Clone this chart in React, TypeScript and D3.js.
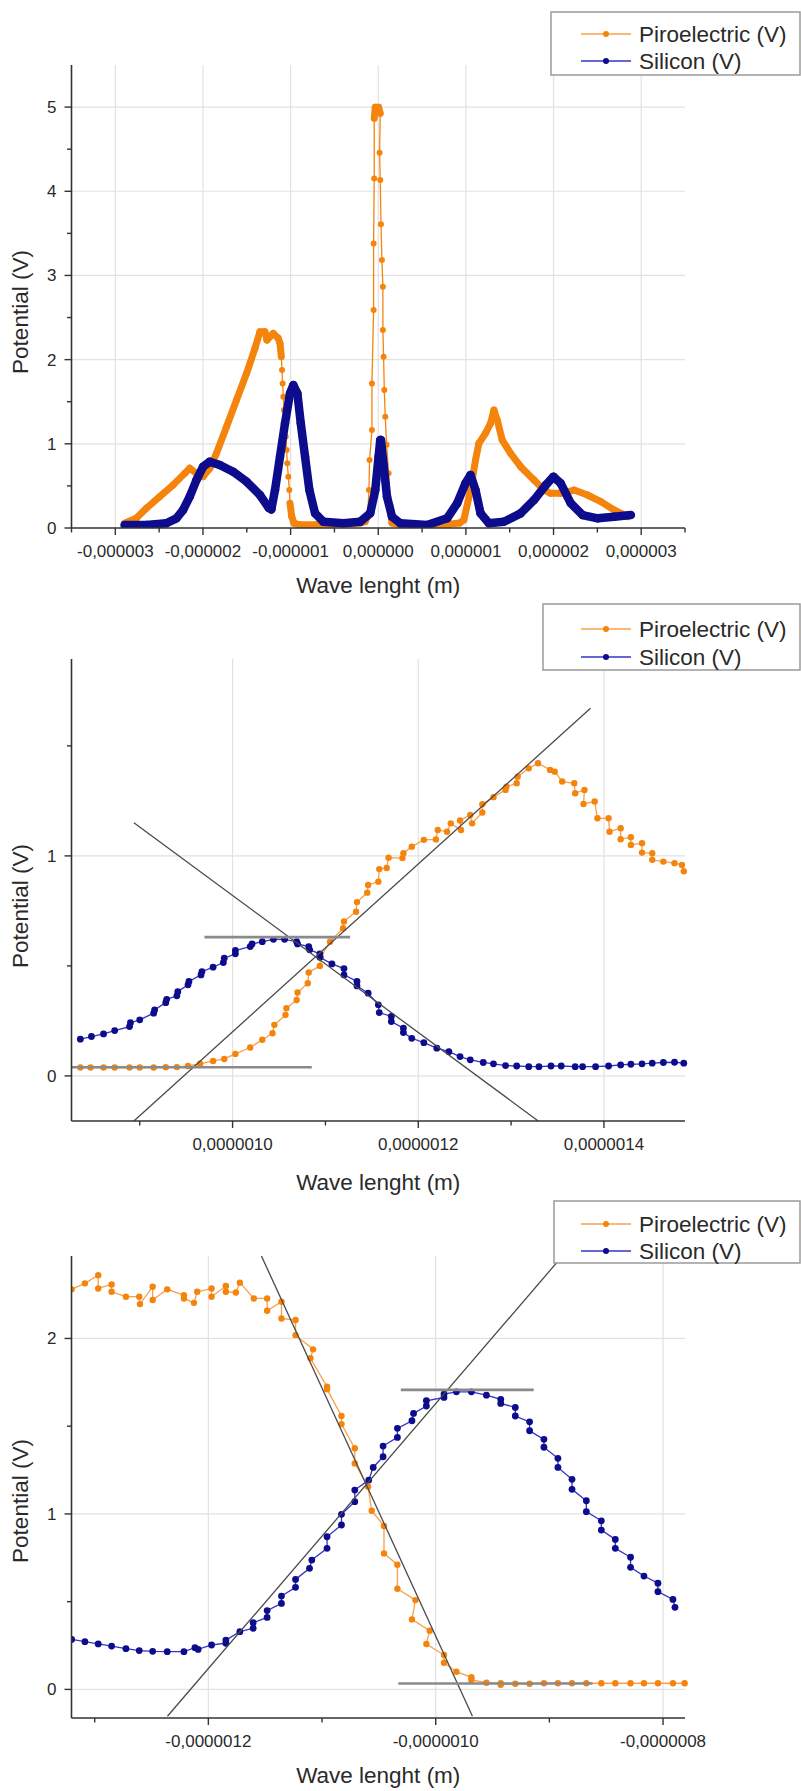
import React from 'react';
import * as d3 from 'd3';

// ---------- DATA (x in micrometres = ×1e-6 m, y in volts) ----------
// Panel 1: overview
const overviewPiroX = [-2.895,-2.761,-2.646,-2.494,-2.342,-2.208,-2.151,-2.074,-1.998,-1.922,-1.846,-1.731,-1.617,-1.502,-1.407,-1.35,-1.293,-1.27,-1.198,-1.141,-1.121,-1.106,-1.098,-1.091,-1.083,-1.076,-1.064,-1.056,-1.045,-1.038,-1.026,-1.015,-1.007,-0.987,-0.961,-0.9,-0.7,-0.5,-0.3,-0.2,-0.15,-0.122,-0.106,-0.099,-0.072,-0.072,-0.053,-0.053,-0.046,-0.046,-0.034,0.004,0.023,0.015,0.023,0.031,0.042,0.053,0.053,0.061,0.069,0.08,0.095,0.118,0.137,0.157,0.25,0.5,0.8,0.93,0.976,1.053,1.11,1.148,1.224,1.281,1.32,1.358,1.415,1.51,1.625,1.777,1.891,1.968,2.082,2.235,2.387,2.54,2.692,2.845];
const overviewPiroY = [0.056,0.115,0.234,0.372,0.51,0.649,0.709,0.649,0.61,0.709,0.887,1.203,1.52,1.837,2.134,2.331,2.331,2.233,2.312,2.253,2.193,2.035,1.876,1.718,1.56,1.401,1.243,1.085,0.926,0.768,0.61,0.451,0.293,0.134,0.056,0.04,0.04,0.045,0.05,0.06,0.075,0.134,0.451,0.808,1.164,1.718,2.589,3.381,4.153,4.866,4.997,4.997,4.925,4.457,4.133,3.607,3.183,2.866,2.352,2.035,1.639,1.322,0.99,0.649,0.253,0.06,0.04,0.04,0.045,0.06,0.095,0.451,0.808,1.006,1.125,1.243,1.401,1.283,1.045,0.887,0.728,0.57,0.451,0.412,0.412,0.451,0.392,0.313,0.214,0.134];
const overviewSiX = [-2.895,-2.646,-2.418,-2.303,-2.227,-2.151,-2.074,-1.998,-1.922,-1.808,-1.656,-1.502,-1.35,-1.25,-1.22,-1.178,-1.121,-1.064,-1.007,-0.969,-0.923,-0.884,-0.835,-0.786,-0.721,-0.626,-0.397,-0.206,-0.092,-0.034,0.004,0.023,0.031,0.061,0.1,0.157,0.252,0.557,0.786,0.9,0.995,1.053,1.11,1.167,1.262,1.434,1.625,1.777,1.911,1.999,2.082,2.197,2.331,2.503,2.692,2.883];
const overviewSiY = [0.036,0.036,0.056,0.115,0.214,0.372,0.57,0.728,0.788,0.748,0.669,0.55,0.392,0.24,0.22,0.451,0.847,1.243,1.6,1.698,1.6,1.243,0.847,0.451,0.174,0.075,0.056,0.075,0.174,0.451,0.847,1.045,1.045,0.752,0.372,0.134,0.056,0.036,0.115,0.293,0.531,0.63,0.451,0.174,0.056,0.075,0.174,0.332,0.51,0.61,0.531,0.293,0.154,0.115,0.134,0.154];

// Panel 2: zoom around +1 µm
const zoomAPiroX = [0.836,0.847,0.861,0.873,0.889,0.9,0.915,0.928,0.94,0.952,0.965,0.979,0.991,1.003,1.019,1.032,1.043,1.045,1.057,1.058,1.069,1.07,1.081,1.082,1.094,1.095,1.105,1.119,1.12,1.133,1.134,1.145,1.146,1.157,1.158,1.166,1.168,1.183,1.184,1.193,1.206,1.219,1.221,1.231,1.235,1.246,1.245,1.256,1.258,1.269,1.269,1.281,1.294,1.295,1.306,1.307,1.319,1.329,1.342,1.347,1.355,1.368,1.369,1.379,1.378,1.39,1.393,1.405,1.406,1.418,1.418,1.429,1.429,1.441,1.441,1.452,1.452,1.464,1.476,1.484,1.486];
const zoomAPiroY = [0.038,0.038,0.038,0.038,0.038,0.038,0.038,0.039,0.04,0.045,0.055,0.068,0.077,0.1,0.129,0.164,0.194,0.232,0.277,0.308,0.345,0.379,0.421,0.47,0.5,0.54,0.61,0.671,0.702,0.746,0.79,0.833,0.868,0.883,0.94,0.945,0.992,0.99,1.012,1.042,1.073,1.075,1.118,1.11,1.148,1.118,1.161,1.186,1.148,1.197,1.235,1.267,1.3,1.315,1.33,1.36,1.398,1.421,1.391,1.383,1.338,1.33,1.285,1.3,1.236,1.247,1.171,1.171,1.11,1.126,1.076,1.085,1.05,1.058,1.015,1.012,0.982,0.974,0.967,0.959,0.93];
const zoomASiX = [0.836,0.848,0.861,0.873,0.889,0.89,0.9,0.915,0.916,0.928,0.929,0.94,0.941,0.952,0.953,0.966,0.967,0.979,0.99,0.991,1.003,1.003,1.019,1.021,1.032,1.044,1.056,1.069,1.07,1.082,1.083,1.094,1.094,1.107,1.12,1.12,1.134,1.134,1.146,1.157,1.158,1.171,1.171,1.184,1.184,1.193,1.206,1.22,1.233,1.245,1.256,1.27,1.281,1.294,1.306,1.319,1.33,1.343,1.354,1.369,1.377,1.391,1.405,1.418,1.429,1.441,1.452,1.464,1.476,1.486];
const zoomASiY = [0.167,0.179,0.191,0.206,0.224,0.242,0.255,0.285,0.3,0.333,0.348,0.364,0.383,0.414,0.429,0.459,0.474,0.494,0.515,0.535,0.555,0.57,0.588,0.6,0.61,0.621,0.621,0.61,0.6,0.588,0.573,0.555,0.539,0.509,0.488,0.459,0.429,0.409,0.376,0.323,0.288,0.27,0.247,0.217,0.197,0.171,0.151,0.126,0.11,0.088,0.073,0.061,0.055,0.047,0.045,0.042,0.042,0.045,0.045,0.042,0.042,0.042,0.045,0.05,0.053,0.055,0.058,0.061,0.062,0.058];
// tangent / level guide lines [x1, y1, x2, y2]
const zoomAGuides = [[0.8937,-0.205,1.3855,1.671],[0.8937,1.151,1.3292,-0.205]];
const zoomALevels = [[0.9697,0.631,1.1266,0.631],[0.8265,0.039,1.0853,0.039]];

// Panel 3: zoom around -1 µm
const zoomBPiroX = [-1.3203,-1.3086,-1.2969,-1.2969,-1.2851,-1.2851,-1.2725,-1.2608,-1.2602,-1.249,-1.249,-1.2362,-1.2215,-1.2215,-1.2127,-1.2098,-1.1972,-1.1972,-1.1846,-1.1846,-1.1758,-1.1723,-1.16,-1.1483,-1.1483,-1.1357,-1.1357,-1.1233,-1.1233,-1.1079,-1.1102,-1.0956,-1.0956,-1.0829,-1.0829,-1.0712,-1.0712,-1.0595,-1.0563,-1.0455,-1.0455,-1.0337,-1.0337,-1.0179,-1.0209,-1.0053,-1.0082,-0.9927,-0.9927,-0.9818,-0.9686,-0.9686,-0.9554,-0.9428,-0.9428,-0.93,-0.9174,-0.9048,-0.8925,-0.8801,-0.8675,-0.8543,-0.842,-0.8286,-0.8168,-0.8045,-0.7913,-0.781];
const zoomBPiroY = [2.28,2.314,2.361,2.285,2.308,2.266,2.238,2.238,2.196,2.295,2.219,2.28,2.247,2.228,2.203,2.266,2.285,2.238,2.299,2.266,2.262,2.318,2.228,2.228,2.158,2.209,2.114,2.105,2.019,1.938,1.887,1.725,1.71,1.558,1.512,1.374,1.288,1.155,1.018,0.931,0.775,0.711,0.574,0.509,0.399,0.334,0.259,0.196,0.152,0.101,0.069,0.054,0.038,0.035,0.026,0.032,0.032,0.035,0.035,0.035,0.035,0.035,0.035,0.035,0.035,0.035,0.035,0.035];
const zoomBSiX = [-1.3203,-1.3086,-1.2969,-1.2851,-1.2725,-1.2608,-1.249,-1.2362,-1.2215,-1.2118,-1.209,-1.1972,-1.1846,-1.1846,-1.1723,-1.1606,-1.1606,-1.1483,-1.1483,-1.1357,-1.1357,-1.1233,-1.1233,-1.111,-1.109,-1.0956,-1.0956,-1.0829,-1.0829,-1.0712,-1.0712,-1.0589,-1.055,-1.0463,-1.0463,-1.0337,-1.0337,-1.0209,-1.0195,-1.0082,-1.0082,-0.9927,-0.9927,-0.9818,-0.9686,-0.9554,-0.9428,-0.9428,-0.93,-0.93,-0.9174,-0.9174,-0.9048,-0.9048,-0.8925,-0.8925,-0.8801,-0.8801,-0.8675,-0.8675,-0.8543,-0.8543,-0.842,-0.842,-0.8286,-0.8286,-0.8168,-0.8045,-0.8045,-0.7913,-0.7895];
const zoomBSiY = [0.285,0.272,0.259,0.247,0.232,0.221,0.217,0.215,0.215,0.238,0.228,0.253,0.263,0.281,0.329,0.348,0.38,0.41,0.449,0.49,0.532,0.582,0.627,0.69,0.737,0.804,0.87,0.937,0.998,1.07,1.136,1.193,1.265,1.326,1.387,1.436,1.488,1.531,1.573,1.615,1.645,1.664,1.683,1.696,1.696,1.677,1.653,1.63,1.607,1.558,1.525,1.474,1.425,1.38,1.317,1.265,1.197,1.14,1.075,1.013,0.961,0.908,0.855,0.804,0.753,0.696,0.646,0.605,0.557,0.513,0.468];
const zoomBGuides = [[-1.1533,2.47,-0.9677,-0.153],[-1.236,-0.153,-0.8937,2.431]];
const zoomBLevels = [[-1.0307,1.707,-0.9138,1.707],[-1.0329,0.034,-0.862,0.034]];

// ticks
const overviewXTicks = [-3,-2,-1,0,1,2,3];
const overviewXMinor = [-3.5,-2.5,-1.5,-0.5,0.5,1.5,2.5,3.5];
const overviewYTicks = [0,1,2,3,4,5];
const overviewYMinor = [0.5,1.5,2.5,3.5,4.5];
const zoomAXTicks = [1.0,1.2,1.4];
const zoomAXMinor = [0.9,1.1,1.3];
const zoomAYTicks = [0,1];
const zoomAYMinor = [0.5,1.5];
const zoomBXTicks = [-1.2,-1.0,-0.8];
const zoomBXMinor = [-1.3,-1.1,-0.9];
const zoomBYTicks = [0,1,2];
const zoomBYMinor = [0.5,1.5];

const seriesNames = ['Piroelectric (V)', 'Silicon (V)'];

// ---------- STYLE ----------
const FONT = "'Liberation Sans', Arial, Helvetica, sans-serif";
const ORANGE = '#F5840C';
const ORANGE_LINE = '#F7A048';
const NAVY = '#0C0C8C';
const NAVY_LINE = '#3434C4';
const AXIS = '#333333';
const GRID = '#E2E2E2';
const TEXT = '#2a2a2a';

type Frame = { left: number; right: number; top: number; bottom: number };
type Series = { xs: number[]; ys: number[]; marker: string; line: string; r: number; band?: number };

function fmt(decimals: number) {
  return (v: number) => {
    const s = (Math.abs(v) < 1e-12 ? 0 : v * 1e-6).toFixed(decimals).replace('.', ',');
    return s;
  };
}

function Legend({ x, y, w, h, rows }: { x: number; y: number; w: number; h: number; rows: number[] }) {
  return (
    <g>
      <rect x={x} y={y} width={w} height={h} fill="#fff" stroke="#9a9a9a" strokeWidth={1.5} />
      {rows.map((ry, i) => (
        <g key={i}>
          <line x1={581} x2={631} y1={ry} y2={ry} stroke={i === 0 ? ORANGE_LINE : NAVY_LINE} strokeWidth={1.5} />
          <circle cx={606} cy={ry} r={3} fill={i === 0 ? ORANGE : NAVY} />
          <text x={639} y={ry + 8} fontSize={22.5} fontFamily={FONT} fill={TEXT}>{seriesNames[i]}</text>
        </g>
      ))}
    </g>
  );
}

function Panel(props: {
  id: string; frame: Frame; xDomain: [number, number]; yDomain: [number, number];
  xTicks: number[]; xMinor: number[]; yTicks: number[]; yMinor: number[];
  xFormat: (v: number) => string; series: Series[]; guides?: number[][]; levels?: number[][];
  yGridZero: boolean; yTitleY: number; xTitleY: number;
}) {
  const { id, frame, xDomain, yDomain, xTicks, xMinor, yTicks, yMinor, xFormat, series, guides = [], levels = [] } = props;
  const x = d3.scaleLinear().domain(xDomain).range([frame.left, frame.right]);
  const y = d3.scaleLinear().domain(yDomain).range([frame.bottom, frame.top]);
  const stepPx = Math.abs(x(0.01) - x(0));
  const line = d3.line<number>().x((_, i) => 0).y(() => 0);
  void line;
  return (
    <g>
      <defs>
        <clipPath id={id}>
          <rect x={frame.left} y={frame.top - 2} width={frame.right - frame.left + 4} height={frame.bottom - frame.top + 2} />
        </clipPath>
      </defs>
      {/* grid */}
      {xTicks.map((t) => (
        <line key={'gx' + t} x1={x(t)} x2={x(t)} y1={frame.top} y2={frame.bottom} stroke={GRID} strokeWidth={1.2} />
      ))}
      {yTicks.filter((t) => props.yGridZero || t !== 0).map((t) => (
        <line key={'gy' + t} x1={frame.left} x2={frame.right} y1={y(t)} y2={y(t)} stroke={GRID} strokeWidth={1.2} />
      ))}
      <g clipPath={`url(#${id})`}>
        {series.map((s, si) => {
          const pts = s.xs.map((xv, i) => [x(xv), y(s.ys[i])] as [number, number]);
          const path = d3.line()(pts) || '';
          const thick: [number, number][][] = [];
          if (s.band) {
            for (let i = 0; i < pts.length - 1; i++) {
              const dx = Math.abs(pts[i + 1][0] - pts[i][0]);
              const dy = Math.abs(pts[i + 1][1] - pts[i][1]);
              const risePerStep = (dy / Math.max(dx, 1e-6)) * stepPx;
              if (risePerStep < 10) thick.push([pts[i], pts[i + 1]]);
            }
          }
          return (
            <g key={si}>
              <path d={path} fill="none" stroke={s.line} strokeWidth={1.3} />
              {thick.map((seg, k) => (
                <line key={k} x1={seg[0][0]} y1={seg[0][1]} x2={seg[1][0]} y2={seg[1][1]}
                  stroke={s.marker} strokeWidth={s.band} strokeLinecap="round" />
              ))}
              {pts.map((p, k) => (
                <circle key={k} cx={p[0]} cy={p[1]} r={s.r} fill={s.marker} />
              ))}
            </g>
          );
        })}
      </g>
      {guides.map((g, i) => (
        <line key={'g' + i} x1={x(g[0])} y1={y(g[1])} x2={x(g[2])} y2={y(g[3])} stroke="#4a4a4a" strokeWidth={1.3} />
      ))}
      {levels.map((g, i) => (
        <line key={'l' + i} x1={x(g[0])} y1={y(g[1])} x2={x(g[2])} y2={y(g[3])} stroke="#8a8a8a" strokeWidth={2.6} />
      ))}
      {/* axes */}
      <line x1={frame.left} x2={frame.left} y1={frame.top} y2={frame.bottom} stroke={AXIS} strokeWidth={1.6} />
      <line x1={frame.left} x2={frame.right} y1={frame.bottom} y2={frame.bottom} stroke={AXIS} strokeWidth={1.6} />
      {xTicks.map((t) => (
        <g key={'xt' + t}>
          <line x1={x(t)} x2={x(t)} y1={frame.bottom} y2={frame.bottom + 7} stroke={AXIS} strokeWidth={1.4} />
          <text x={x(t)} y={frame.bottom + 29} textAnchor="middle" fontSize={17} fontFamily={FONT} fill={TEXT}>{xFormat(t)}</text>
        </g>
      ))}
      {xMinor.map((t) => (
        <line key={'xm' + t} x1={x(t)} x2={x(t)} y1={frame.bottom} y2={frame.bottom + 4.5} stroke={AXIS} strokeWidth={1.4} />
      ))}
      {yTicks.map((t) => (
        <g key={'yt' + t}>
          <line x1={frame.left - 7} x2={frame.left} y1={y(t)} y2={y(t)} stroke={AXIS} strokeWidth={1.4} />
          <text x={frame.left - 15} y={y(t) + 6} textAnchor="end" fontSize={17} fontFamily={FONT} fill={TEXT}>{t}</text>
        </g>
      ))}
      {yMinor.map((t) => (
        <line key={'ym' + t} x1={frame.left - 4.5} x2={frame.left} y1={y(t)} y2={y(t)} stroke={AXIS} strokeWidth={1.4} />
      ))}
      <text x={(frame.left + frame.right) / 2} y={props.xTitleY} textAnchor="middle" fontSize={22.5} fontFamily={FONT} fill={TEXT}>Wave lenght (m)</text>
      <text transform={`translate(28, ${props.yTitleY}) rotate(-90)`} textAnchor="middle" fontSize={22.5} fontFamily={FONT} fill={TEXT}>Potential (V)</text>
    </g>
  );
}

export default function App() {
  return (
    <svg width={801} height={1791} style={{ position: 'absolute', left: 0, top: 0, background: '#fff' }}>
      <rect x={0} y={0} width={801} height={1791} fill="#fff" />
      <Panel id="c1" frame={{ left: 71.5, right: 685, top: 65, bottom: 528 }}
        xDomain={[-3.5, 3.5]} yDomain={[0, 5.5]}
        xTicks={overviewXTicks} xMinor={overviewXMinor} yTicks={overviewYTicks} yMinor={overviewYMinor}
        xFormat={fmt(6)} yGridZero={false} yTitleY={312} xTitleY={593}
        series={[
          { xs: overviewPiroX, ys: overviewPiroY, marker: ORANGE, line: ORANGE, r: 3, band: 7 },
          { xs: overviewSiX, ys: overviewSiY, marker: NAVY, line: NAVY, r: 3.5, band: 8.5 },
        ]} />
      <Legend x={551} y={12} w={249} h={63} rows={[34, 61]} />

      <Panel id="c2" frame={{ left: 71.5, right: 685, top: 659, bottom: 1121 }}
        xDomain={[0.8265, 1.4873]} yDomain={[-0.205, 1.895]}
        xTicks={zoomAXTicks} xMinor={zoomAXMinor} yTicks={zoomAYTicks} yMinor={zoomAYMinor}
        xFormat={fmt(7)} yGridZero={true} yTitleY={906} xTitleY={1190}
        guides={zoomAGuides} levels={zoomALevels}
        series={[
          { xs: zoomAPiroX, ys: zoomAPiroY, marker: ORANGE, line: ORANGE_LINE, r: 3.2 },
          { xs: zoomASiX, ys: zoomASiY, marker: NAVY, line: NAVY_LINE, r: 3.4 },
        ]} />
      <Legend x={543} y={604} w={257} h={66} rows={[629, 657]} />

      <Panel id="c3" frame={{ left: 71.5, right: 685, top: 1256, bottom: 1718 }}
        xDomain={[-1.3204, -0.7807]} yDomain={[-0.163, 2.47]}
        xTicks={zoomBXTicks} xMinor={zoomBXMinor} yTicks={zoomBYTicks} yMinor={zoomBYMinor}
        xFormat={fmt(7)} yGridZero={true} yTitleY={1501} xTitleY={1783}
        guides={zoomBGuides} levels={zoomBLevels}
        series={[
          { xs: zoomBPiroX, ys: zoomBPiroY, marker: ORANGE, line: ORANGE_LINE, r: 3.2 },
          { xs: zoomBSiX, ys: zoomBSiY, marker: NAVY, line: NAVY_LINE, r: 3.4 },
        ]} />
      <Legend x={554} y={1201} w={246} h={62} rows={[1224, 1251]} />
    </svg>
  );
}
